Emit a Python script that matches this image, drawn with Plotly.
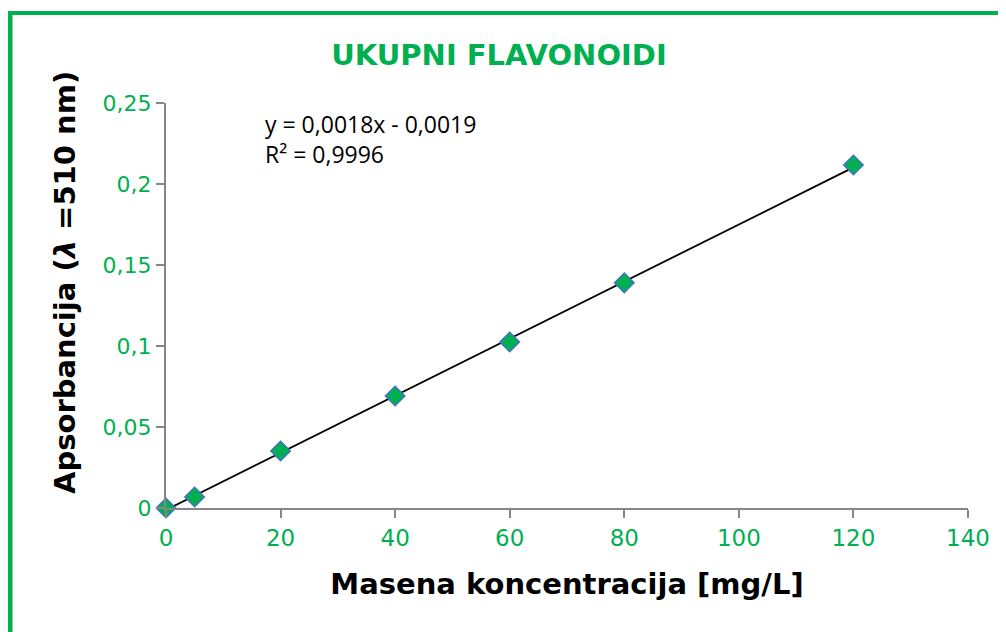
import numpy as np
import plotly.graph_objects as go

conc = [0, 5, 20, 40, 60, 80, 120]
absorb = [0.0, 0.0068, 0.0352, 0.0691, 0.1025, 0.139, 0.2117]
y_ticks = [0, 0.05, 0.1, 0.15, 0.2, 0.25]
y_tick_labels = ["0", "0,05", "0,1", "0,15", "0,2", "0,25"]
x_ticks = [0, 20, 40, 60, 80, 100, 120, 140]

slope, intercept = np.polyfit(conc, absorb, 1)
fit_x = [min(conc), max(conc)]
fit_y = [slope * v + intercept for v in fit_x]

GREEN = "#00B050"
AXIS_GREY = "#868686"

fig = go.Figure()
fig.add_trace(go.Scatter(x=fit_x, y=fit_y, mode="lines", cliponaxis=False,
                         line=dict(color="black", width=1.8), hoverinfo="skip"))
fig.add_trace(go.Scatter(x=conc, y=absorb, mode="markers", cliponaxis=False,
                         marker=dict(symbol="diamond", size=15, color=GREEN,
                                     line=dict(color="#4472C4", width=1.5))))

# page has an 8px body offset; compensate so the plot area sits at page px 166..968 x 103..508
OFF = 8
W, H = 1006, 632
ml, mt = 166 - OFF, 103 - OFF
mr = W + OFF - 968
mb = H + OFF - 508
PL, PR, PT, PB = 166, 968, 103, 508

def px_x(p):
    return (p - PL) / (PR - PL)

def px_y(p):
    return (PB - p) / (PB - PT)

fig.update_layout(
    width=W, height=H,
    margin=dict(l=ml, r=mr, t=mt, b=mb),
    paper_bgcolor="white", plot_bgcolor="white",
    showlegend=False,
    separators=", ",
    font=dict(family="DejaVu Sans", color="black"),
    title=dict(text="<b>UKUPNI FLAVONOIDI</b>", x=(499 - OFF) / W, xanchor="center",
               y=1 - (55 - OFF) / H, yanchor="middle",
               font=dict(size=29, color=GREEN, family="DejaVu Sans")),
    xaxis=dict(range=[0, 140], tickvals=x_ticks, showgrid=False, zeroline=False,
               showline=True, linecolor=AXIS_GREY, linewidth=2,
               ticks="outside", ticklen=8, tickcolor=AXIS_GREY, tickwidth=2,
               tickfont=dict(size=23, color=GREEN, family="DejaVu Sans"),
               title=dict(text="<b>Masena koncentracija [mg/L]</b>",
                          font=dict(size=29, color="black"), standoff=24)),
    yaxis=dict(range=[0, 0.25], tickvals=y_ticks, ticktext=y_tick_labels,
               showgrid=False, zeroline=False,
               showline=True, linecolor=AXIS_GREY, linewidth=2,
               ticks="outside", ticklen=8, tickcolor=AXIS_GREY, tickwidth=2,
               tickfont=dict(size=22, color=GREEN, family="DejaVu Sans")),
)

# y-axis title (placed as rotated text, slightly above the plot centre as in the reference)
fig.add_annotation(xref="paper", yref="paper", x=px_x(65), y=px_y(283),
                   xanchor="center", yanchor="middle", textangle=-90, showarrow=False,
                   text="<b>Apsorbancija (<i>λ</i> =510 nm)</b>",
                   font=dict(size=29, color="black", family="DejaVu Sans"))

fig.add_annotation(xref="paper", yref="paper", x=px_x(263), y=px_y(106),
                   xanchor="left", yanchor="top", align="left", showarrow=False,
                   text="y = 0,0018x - 0,0019<br>R² = 0,9996",
                   font=dict(size=23, color="black", family="Open Sans"))

# green frame (left and top edges visible)
fig.add_shape(type="line", xref="paper", yref="paper",
              x0=px_x(10), x1=px_x(10), y0=px_y(11), y1=px_y(700),
              line=dict(color=GREEN, width=5))
fig.add_shape(type="line", xref="paper", yref="paper",
              x0=px_x(8), x1=px_x(1100), y0=px_y(13), y1=px_y(13),
              line=dict(color=GREEN, width=4))

fig.write_html("out.html")
